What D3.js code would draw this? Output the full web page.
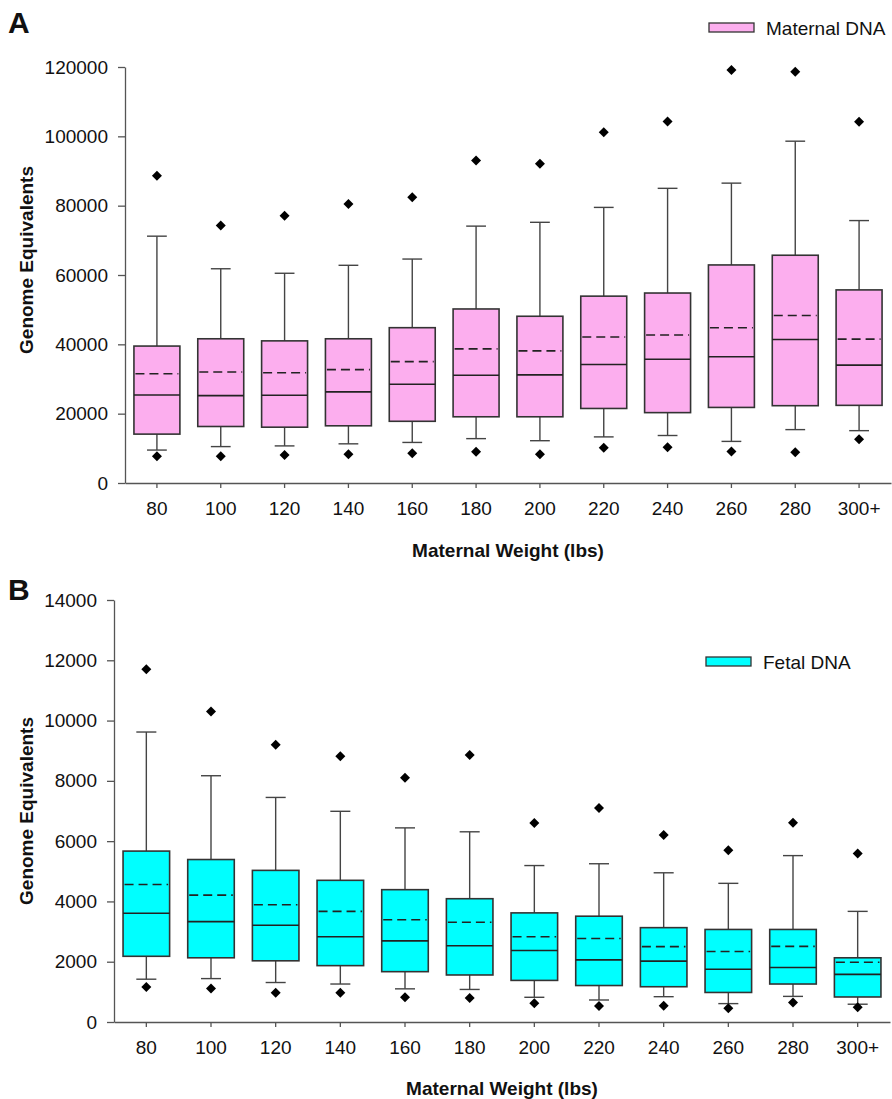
<!DOCTYPE html>
<html>
<head>
<meta charset="utf-8">
<script src="https://cdn.jsdelivr.net/npm/d3@7"></script>
<style>
	body { margin: 0; background: #fff; }
	svg text { font-family: 'Liberation Sans', Arial, sans-serif; fill: #111; }
	.axis path, .axis line { stroke: #555; stroke-width: 1.3; }
	.axis text { font-size: 19px; }
	.axis-title { font-size: 19px; font-weight: bold; }
	.panel-label { font-size: 30px; font-weight: bold; }
	.legend-text { font-size: 19px; }
</style>
</head>
<body>
<script>
// weight groups along the x axis
var categories = ['80', '100', '120', '140', '160', '180', '200', '220', '240', '260', '280', '300+'];

// panel A - maternal DNA (genome equivalents)
var maternalOutHigh = [88600, 74300, 77100, 80500, 82400, 93000, 92100, 101200, 104300, 119100, 118600, 104200];
var maternalWhiskHigh = [71200, 61800, 60500, 62800, 64600, 74100, 75200, 79500, 85000, 86500, 98600, 75700];
var maternalQ3 = [39500, 41600, 41000, 41600, 44800, 50200, 48100, 53900, 54800, 62900, 65700, 55700];
var maternalMean = [31500, 32000, 31800, 32700, 35000, 38700, 38100, 42100, 42700, 44800, 48300, 41500];
var maternalMedian = [25400, 25200, 25300, 26300, 28500, 31100, 31200, 34200, 35700, 36400, 41400, 34000];
var maternalQ1 = [14100, 16300, 16100, 16500, 17800, 19100, 19100, 21500, 20300, 21800, 22300, 22400];
var maternalWhiskLow = [9500, 10500, 10700, 11300, 11700, 12800, 12200, 13300, 13700, 12000, 15400, 15100];
var maternalOutLow = [7700, 7700, 8100, 8300, 8600, 9000, 8300, 10200, 10300, 9100, 8900, 12600];

// panel B - fetal DNA (genome equivalents)
var fetalOutHigh = [11700, 10300, 9200, 8820, 8100, 8860, 6600, 7100, 6200, 5700, 6610, 5590];
var fetalWhiskHigh = [9620, 8170, 7450, 6990, 6440, 6310, 5190, 5250, 4950, 4600, 5520, 3670];
var fetalQ3 = [5670, 5390, 5030, 4700, 4390, 4090, 3620, 3510, 3130, 3070, 3070, 2130];
var fetalMean = [4560, 4210, 3890, 3670, 3390, 3310, 2830, 2770, 2500, 2340, 2510, 1980];
var fetalMedian = [3610, 3330, 3210, 2830, 2690, 2530, 2370, 2060, 2020, 1750, 1810, 1580];
var fetalQ1 = [2180, 2130, 2030, 1870, 1670, 1560, 1380, 1210, 1170, 980, 1260, 830];
var fetalWhiskLow = [1420, 1440, 1310, 1260, 1100, 1080, 820, 730, 840, 610, 850, 590];
var fetalOutLow = [1160, 1110, 970, 970, 820, 800, 620, 530, 540, 460, 650, 490];

var yTicksA = [0, 20000, 40000, 60000, 80000, 100000, 120000];
var yTicksB = [0, 2000, 4000, 6000, 8000, 10000, 12000, 14000];

var width = 892,
	height = 1099;

var svg = d3.select('body').append('svg')
	.attr('width', width)
	.attr('height', height);

// build a table of rows for one series
function makeRows(outHigh, whiskHigh, q3, mean, median, q1, whiskLow, outLow) {
	return categories.map(function(c, i) {
		return {
			cat: c,
			outHigh: outHigh[i], whiskHigh: whiskHigh[i], q3: q3[i], mean: mean[i],
			median: median[i], q1: q1[i], whiskLow: whiskLow[i], outLow: outLow[i]
		};
	});
}

var maternalRows = makeRows(maternalOutHigh, maternalWhiskHigh, maternalQ3, maternalMean,
	maternalMedian, maternalQ1, maternalWhiskLow, maternalOutLow);
var fetalRows = makeRows(fetalOutHigh, fetalWhiskHigh, fetalQ3, fetalMean,
	fetalMedian, fetalQ1, fetalWhiskLow, fetalOutLow);

drawPanel({
	rows: maternalRows,
	ticks: yTicksA,
	fill: '#fcaeee',
	label: 'A', labelY: 33,
	x0: 125, x1: 891, yTop: 67, yBottom: 483,
	yTitleY: 260, xTitleY: 557,
	legendText: 'Maternal DNA', legendX: 709, legendY: 23
});

drawPanel({
	rows: fetalRows,
	ticks: yTicksB,
	fill: '#00ffff',
	label: 'B', labelY: 600,
	x0: 114, x1: 890, yTop: 600, yBottom: 1022,
	yTitleY: 811, xTitleY: 1095,
	legendText: 'Fetal DNA', legendX: 706, legendY: 657
});

function drawPanel(p) {
	var xScale = d3.scaleBand()
		.domain(categories)
		.range([p.x0, p.x1])
		.padding(0);

	var yScale = d3.scaleLinear()
		.domain([0, d3.max(p.ticks)])
		.range([p.yBottom, p.yTop]);

	var boxW = xScale.bandwidth() * 0.72,
		capW = xScale.bandwidth() * 0.31;

	function cx(d) { return xScale(d.cat) + xScale.bandwidth() / 2; }

	var g = svg.append('g');

	// x axis
	g.append('g')
		.attr('class', 'axis axis--x')
		.attr('transform', 'translate(0,' + p.yBottom + ')')
		.call(d3.axisBottom(xScale).tickSize(5).tickSizeOuter(0).tickPadding(14));

	// y axis
	g.append('g')
		.attr('class', 'axis axis--y')
		.attr('transform', 'translate(' + p.x0 + ',0)')
		.call(d3.axisLeft(yScale).tickValues(p.ticks).tickFormat(d3.format('d'))
			.tickSize(7).tickSizeOuter(0).tickPadding(10));

	// whiskers
	var box = g.selectAll('.box')
		.data(p.rows)
		.enter().append('g')
		.attr('class', 'box');

	box.append('line')
		.attr('x1', cx).attr('x2', cx)
		.attr('y1', function(d) { return yScale(d.whiskHigh); })
		.attr('y2', function(d) { return yScale(d.q3); })
		.attr('stroke', '#444').attr('stroke-width', 1.4);

	box.append('line')
		.attr('x1', cx).attr('x2', cx)
		.attr('y1', function(d) { return yScale(d.q1); })
		.attr('y2', function(d) { return yScale(d.whiskLow); })
		.attr('stroke', '#444').attr('stroke-width', 1.4);

	['whiskHigh', 'whiskLow'].forEach(function(k) {
		box.append('line')
			.attr('x1', function(d) { return cx(d) - capW / 2; })
			.attr('x2', function(d) { return cx(d) + capW / 2; })
			.attr('y1', function(d) { return yScale(d[k]); })
			.attr('y2', function(d) { return yScale(d[k]); })
			.attr('stroke', '#444').attr('stroke-width', 1.4);
	});

	// boxes
	box.append('rect')
		.attr('x', function(d) { return cx(d) - boxW / 2; })
		.attr('y', function(d) { return yScale(d.q3); })
		.attr('width', boxW)
		.attr('height', function(d) { return yScale(d.q1) - yScale(d.q3); })
		.attr('fill', p.fill)
		.attr('stroke', '#333')
		.attr('stroke-width', 1.6);

	// median
	box.append('line')
		.attr('x1', function(d) { return cx(d) - boxW / 2; })
		.attr('x2', function(d) { return cx(d) + boxW / 2; })
		.attr('y1', function(d) { return yScale(d.median); })
		.attr('y2', function(d) { return yScale(d.median); })
		.attr('stroke', '#222').attr('stroke-width', 1.6);

	// mean (dashed)
	box.append('line')
		.attr('x1', function(d) { return cx(d) - boxW / 2 + 1.5; })
		.attr('x2', function(d) { return cx(d) + boxW / 2 - 1.5; })
		.attr('y1', function(d) { return yScale(d.mean); })
		.attr('y2', function(d) { return yScale(d.mean); })
		.attr('stroke', '#222').attr('stroke-width', 1.6)
		.attr('stroke-dasharray', '9,5');

	// outlier diamonds
	var diamond = d3.symbol().type(d3.symbolSquare).size(50);
	['outHigh', 'outLow'].forEach(function(k) {
		box.append('path')
			.attr('d', diamond)
			.attr('transform', function(d) {
				return 'translate(' + cx(d) + ',' + yScale(d[k]) + ') rotate(45)';
			})
			.attr('fill', '#000');
	});

	// axis titles
	svg.append('text')
		.attr('class', 'axis-title')
		.attr('transform', 'translate(33,' + p.yTitleY + ') rotate(-90)')
		.attr('text-anchor', 'middle')
		.text('Genome Equivalents');

	svg.append('text')
		.attr('class', 'axis-title')
		.attr('x', (p.x0 + p.x1) / 2)
		.attr('y', p.xTitleY)
		.attr('text-anchor', 'middle')
		.text('Maternal Weight (lbs)');

	// panel letter
	svg.append('text')
		.attr('class', 'panel-label')
		.attr('x', 8)
		.attr('y', p.labelY)
		.text(p.label);

	// legend
	svg.append('rect')
		.attr('x', p.legendX)
		.attr('y', p.legendY)
		.attr('width', 45)
		.attr('height', 9)
		.attr('fill', p.fill)
		.attr('stroke', '#333')
		.attr('stroke-width', 1.3);

	svg.append('text')
		.attr('class', 'legend-text')
		.attr('x', p.legendX + 57)
		.attr('y', p.legendY + 12)
		.text(p.legendText);
}
</script>
</body>
</html>
